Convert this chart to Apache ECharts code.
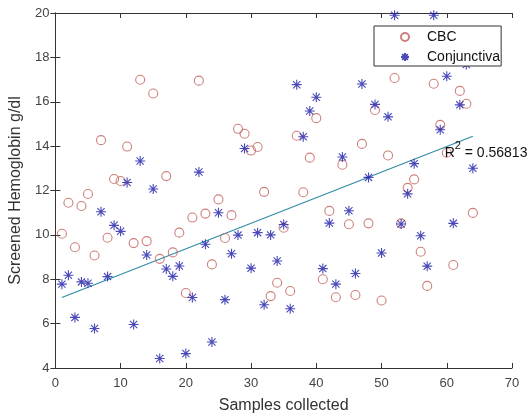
<!DOCTYPE html>
<html>
<head>
<meta charset="utf-8">
<script src="https://cdn.jsdelivr.net/npm/echarts@6/dist/echarts.min.js"></script>
<style>
html,body{margin:0;padding:0;background:#fff;}
#chart{width:532px;height:419px;}
</style>
</head>
<body>
<div id="chart"></div>
<script>
const samples = [1,2,3,4,5,6,7,8,9,10,11,12,13,14,15,16,17,18,19,20,21,22,23,24,25,26,27,28,29,30,31,32,33,34,35,36,37,38,39,40,41,42,43,44,45,46,47,48,49,50,51,52,53,54,55,56,57,58,59,60,61,62,63,64];
const cbc = [10.05, 11.45, 9.44, 11.3, 11.84, 9.07, 14.27, 9.87, 12.52, 12.43,
  13.98, 9.63, 16.99, 9.72, 16.37, 8.92, 12.65, 9.21, 10.1, 7.38,
  10.78, 16.95, 10.96, 8.67, 11.6, 9.86, 10.89, 14.78, 14.56, 13.8,
  13.96, 11.94, 7.24, 7.84, 10.32, 7.47, 14.47, 11.92, 13.48, 15.26,
  8.0, 11.08, 7.19, 13.16, 10.48, 7.29, 14.1, 10.52, 15.63, 7.04,
  13.58, 17.07, 10.52, 12.12, 12.5, 9.24, 7.7, 16.81, 14.96, 13.7,
  8.64, 16.49, 15.91, 10.99];
const conjunctiva = [7.78, 8.18, 6.28, 7.88, 7.82, 5.78, 11.04, 8.12, 10.43, 10.16,
  12.36, 5.96, 13.33, 9.09, 12.07, 4.43, 8.46, 8.13, 8.6, 4.65,
  7.18, 12.83, 9.58, 5.17, 11.0, 7.08, 9.15, 9.99, 13.89, 8.5,
  10.1, 6.85, 10.0, 8.82, 10.47, 6.67, 16.77, 14.42, 15.58, 16.2,
  8.48, 10.53, 7.78, 13.51, 11.09, 8.26, 16.8, 12.59, 15.88, 9.18,
  15.32, 19.9, 10.49, 11.85, 13.21, 9.96, 8.59, 19.9, 14.74, 17.15,
  10.52, 15.86, 17.68, 13.0];
const trendX = [1, 64];
const trendY = [7.18, 14.44];
const r2Text = '0.56813';
const r2Pos = [59.6, 13.67];

const axisColor = '#333333';
const font = 'Liberation Sans, Arial, sans-serif';

const chart = echarts.init(document.getElementById('chart'), null, {renderer: 'canvas'});

const baseX = {
  type: 'value', min: 0, max: 70, interval: 10,
  axisLine: {show: true, lineStyle: {color: axisColor, width: 1}},
  axisTick: {show: true, inside: true, length: 5, lineStyle: {color: axisColor}},
  splitLine: {show: false}
};
const baseY = {
  type: 'value', min: 4, max: 20, interval: 2,
  axisLine: {show: true, lineStyle: {color: axisColor, width: 1}},
  axisTick: {show: true, inside: true, length: 5, lineStyle: {color: axisColor}},
  splitLine: {show: false}
};

const asterisk = 'path://M0,-5L0,5M-5,0L5,0M-3.6,-3.6L3.6,3.6M-3.6,3.6L3.6,-3.6';

chart.setOption({
  animation: false,
  backgroundColor: '#ffffff',
  textStyle: {fontFamily: font},
  grid: {left: 55, right: 20, top: 13, bottom: 46, containLabel: false},
  legend: {
    data: ['CBC', 'Conjunctiva'],
    orient: 'vertical',
    left: 374, top: 26,
    padding: [4, 1, 2, 26],
    itemWidth: 34, itemHeight: 8, itemGap: 6,
    backgroundColor: '#ffffff',
    borderColor: '#333333', borderWidth: 1,
    textStyle: {fontSize: 14, color: '#111', fontFamily: font}
  },
  xAxis: [
    Object.assign({}, baseX, {
      position: 'bottom',
      name: 'Samples collected', nameLocation: 'middle', nameGap: 30,
      nameTextStyle: {fontSize: 16, color: '#333', fontFamily: font},
      axisLabel: {fontSize: 13, color: '#444', margin: 9, fontFamily: font}
    }),
    Object.assign({}, baseX, {position: 'top', axisLabel: {show: false}})
  ],
  yAxis: [
    Object.assign({}, baseY, {
      position: 'left',
      name: 'Screened Hemoglobin g/dl', nameLocation: 'middle', nameGap: 29,
      nameTextStyle: {fontSize: 16, color: '#333', fontFamily: font},
      axisLabel: {fontSize: 13, color: '#444', margin: 6, fontFamily: font}
    }),
    Object.assign({}, baseY, {position: 'right', axisLabel: {show: false}})
  ],
  series: [
    {
      name: 'CBC', type: 'scatter',
      data: samples.map((s, i) => [s, cbc[i]]),
      symbol: 'circle', symbolSize: 9,
      itemStyle: {color: 'rgba(255,255,255,0)', borderColor: '#c0605a', borderWidth: 1.1},
      z: 3
    },
    {
      name: 'Conjunctiva', type: 'scatter',
      data: samples.map((s, i) => [s, conjunctiva[i]]),
      symbol: asterisk, symbolSize: 10,
      itemStyle: {color: 'rgba(0,0,0,0)', borderColor: '#1c1ca8', borderWidth: 1.1},
      z: 3
    },
    {
      name: 'Fit', type: 'line',
      data: trendX.map((x, i) => [x, trendY[i]]),
      showSymbol: false, symbol: 'none',
      lineStyle: {color: '#2f8aa5', width: 1.1},
      z: 2,
      markPoint: {
        symbol: 'rect', symbolSize: 1,
        itemStyle: {color: 'rgba(0,0,0,0)'},
        data: [{coord: r2Pos}],
        label: {
          show: true, position: 'right', distance: 0,
          formatter: '{r|R}{s|2}{r| = ' + r2Text + '}',
          rich: {
            r: {fontSize: 14, lineHeight: 26, color: '#111', fontFamily: font},
            s: {fontSize: 11, lineHeight: 11, verticalAlign: 'top', color: '#111', fontFamily: font}
          }
        }
      }
    }
  ]
});
</script>
</body>
</html>
